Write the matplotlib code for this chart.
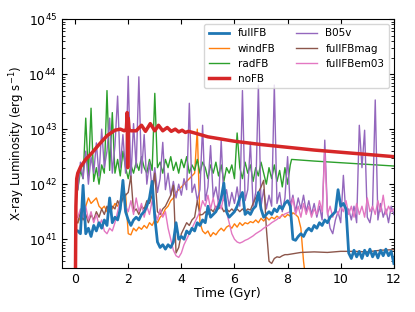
import numpy as np
import matplotlib
matplotlib.use('Agg')
import matplotlib.pyplot as plt

# time grid (Gyr) for the noisy runs, values as log10(L)
grid = np.round(np.arange(1, 121) * 0.1, 1)

# noFB (smooth, thick red)
nofb_t = [0.0, 0.03, 0.06, 0.1, 0.2, 0.4, 0.6, 0.9, 1.2, 1.5, 1.7, 1.85, 1.93, 1.96, 1.98,
          2.0, 2.03, 2.1, 2.3, 2.5, 2.65, 2.83, 3.0, 3.14, 3.3, 3.47, 3.62, 3.77, 3.9,
          4.03, 4.15, 4.27, 4.5, 5.0, 6.0, 7.0, 8.0, 9.0, 10.0, 11.0, 12.0]
nofb = [39.5, 41.6, 42.1, 42.2, 42.31, 42.45, 42.55, 42.72, 42.88, 42.98, 43.0, 42.97, 43.0, 43.3, 42.3,
        43.2, 42.98, 42.97, 42.97, 43.07, 42.96, 43.1, 42.97, 43.07, 42.97, 43.03, 42.96, 43.0, 42.95,
        42.98, 42.94, 42.96, 42.93, 42.86, 42.78, 42.72, 42.67, 42.62, 42.58, 42.54, 42.5]

fullfb = [41.15, 41.1, 41.98, 41.1, 41.2, 41.05, 41.25, 41.15, 41.3, 41.2,
          41.35, 41.25, 41.75, 41.3, 41.4, 41.35, 41.55, 42.07, 41.5, 41.35,
          41.25, 41.35, 41.4, 41.35, 41.45, 41.5, 41.6, 41.75, 42.05, 41.4,
          40.95, 40.85, 40.9, 40.82, 40.9, 40.85, 40.95, 41.3, 41.0, 41.05,
          41.0, 41.15, 41.1, 41.2, 41.15, 41.3, 41.25, 41.35, 41.3, 41.6,
          41.4, 41.45, 41.5, 41.6, 41.75, 42.02, 41.5, 41.4, 41.45, 41.5,
          41.6, 41.75, 41.85, 41.45, 41.5, 41.45, 41.55, 41.6, 41.85, 41.55,
          41.4, 41.45, 41.5, 41.45, 41.55, 41.5, 41.6, 41.55, 41.65, 41.7,
          41.6, 41.0, 40.98, 41.05, 41.1, 41.05, 41.15, 41.2, 41.15, 41.25,
          41.2, 41.3, 41.25, 41.35, 41.3, 41.4, 41.45, 41.5, 41.9, 41.6,
          41.65, 41.55, 40.75, 40.65, 40.8, 40.68, 40.78, 40.65, 40.8, 40.7,
          40.82, 40.68, 40.78, 40.66, 40.8, 40.7, 40.82, 40.7, 40.78, 40.56]

windfb = [41.3, 41.4, 41.5, 41.6, 41.75, 41.65, 41.7, 41.75, 41.6, 41.55,
          41.6, 41.5, 41.6, 41.55, 41.65, 41.6, 41.7, 41.75, 41.82, 41.1,
          41.08, 41.2, 41.15, 41.22, 41.18, 41.25, 41.2, 41.3, 41.25, 41.35,
          41.3, 41.4, 41.45, 41.55, 41.6, 41.7, 41.75, 41.85, 41.9, 41.95,
          42.0, 42.05, 42.1, 42.15, 42.2, 43.0, 41.3, 41.15, 41.1, 41.15,
          41.05, 41.12, 41.08, 41.15, 41.2, 41.15, 41.22, 41.25, 41.2, 41.28,
          41.22, 41.3, 41.25, 41.3, 41.28, 41.32, 41.3, 41.35, 41.3, 41.38,
          41.33, 41.4, 41.35, 41.4, 41.37, 41.42, 41.38, 41.45, 41.4, 41.45,
          41.42, 41.48, 41.45, 41.4, 41.2, 40.6, 40.2]

radfb = [41.9, 42.25, 42.1, 43.2, 42.15, 43.38, 42.05, 42.3, 42.0, 42.35,
         42.2, 43.7, 42.25, 43.3, 42.2, 42.45, 42.15, 42.6, 42.3, 42.1,
         42.35, 42.2, 42.4, 42.25, 42.5, 42.3, 42.2, 42.45, 42.25, 43.65,
         42.3, 42.4, 42.2, 42.45, 42.3, 42.5, 42.25, 42.4, 42.2, 42.45,
         42.3, 42.5, 42.2, 42.35, 42.25, 42.45, 42.2, 42.4, 42.3, 42.1,
         42.35, 42.2, 42.4, 42.15, 42.35, 42.05, 42.3, 42.2, 42.35, 42.1,
         42.93, 42.3, 42.1, 42.4, 42.2, 42.35, 42.05, 42.3, 42.15, 42.4,
         42.2, 42.0, 42.3, 42.1, 42.35, 42.05, 42.25, 41.95, 42.3, 42.0,
         42.35]
radfb_tail_t = [8.15, 9.0, 10.0, 11.0, 12.0]
radfb_tail = [42.45, 42.42, 42.39, 42.36, 42.33]

b05v = [41.9, 42.4, 42.1, 42.6, 42.0, 42.5, 42.2, 42.75, 42.15, 43.0,
        42.3, 42.6, 43.2, 42.2, 42.7, 43.6, 42.3, 42.9, 42.2, 43.96,
        42.1, 43.1, 42.3, 43.95, 42.2, 42.9, 42.0, 42.4, 41.9, 42.3,
        41.85, 42.1, 42.76, 41.9, 42.2, 41.8, 42.05, 41.75, 42.0, 41.8,
        42.1, 41.9, 43.47, 41.85, 42.0, 41.7, 41.9, 43.07, 41.7, 41.95,
        42.7, 41.75, 41.95, 41.65, 42.8, 41.7, 41.9, 41.6, 41.85, 41.65,
        41.95, 41.6, 43.7, 41.7, 41.9, 42.76, 41.6, 41.85, 43.8, 41.6,
        41.9, 41.55, 41.8, 41.6, 43.8, 41.65, 41.85, 41.5, 41.75, 42.5,
        41.6, 41.8, 41.5, 41.75, 41.55, 41.8, 41.5, 41.7, 41.45, 41.65,
        41.4, 41.6, 41.35, 42.8, 41.5, 41.2, 41.1, 41.35, 41.5, 41.3,
        42.16, 41.4, 41.55, 41.35, 41.6, 41.3, 43.07, 42.3, 42.98, 41.4,
        41.3, 41.6, 43.53, 41.35, 41.65, 41.4, 41.55, 41.3, 41.6, 41.45]

fullfbmag = [41.3, 41.5, 41.35, 41.45, 41.3, 41.45, 41.35, 41.5, 41.4, 41.55,
             41.45, 41.6, 41.5, 41.6, 41.55, 41.7, 41.6, 41.75, 41.8, 41.85,
             42.15, 41.5, 41.55, 41.45, 41.6, 41.55, 41.7, 41.65, 41.8, 42.2,
             41.5, 41.45, 41.55, 41.6, 41.7, 41.8, 41.98, 40.75, 40.85, 41.1,
             41.2, 41.3, 41.25, 41.35, 41.4, 41.7, 41.44, 41.45, 41.5, 41.45,
             41.55, 41.5, 41.6, 41.55, 41.6, 41.5, 41.55, 41.5, 41.55, 41.5,
             41.55, 41.5, 41.55, 41.5, 41.55, 41.53, 41.65, 41.75, 41.85, 41.95,
             42.07, 41.2, 40.6, 40.56, 40.65, 40.68, 40.67, 40.7, 40.72, 40.72]
fullfbmag_tail_t = [8.5, 9.0, 9.5, 10.0, 10.5, 11.0, 11.5, 12.0]
fullfbmag_tail = [40.76, 40.77, 40.76, 40.78, 40.78, 40.77, 40.8, 40.81]

fullfbem03 = [41.4, 41.55, 41.4, 41.6, 41.35, 41.5, 41.3, 41.45, 41.25, 41.35,
              41.15, 41.1, 41.2, 41.15, 41.3, 41.5, 41.7, 41.85, 41.6, 41.5,
              41.7, 41.45, 41.75, 41.5, 41.65, 41.4, 41.6, 41.45, 41.7, 41.5,
              41.35, 41.55, 41.4, 41.5, 41.2, 41.0, 40.8, 40.7, 40.67, 40.75,
              40.9, 41.0, 41.1, 41.2, 41.3, 41.4, 41.5, 41.7, 41.6, 41.8,
              41.55, 41.75, 41.5, 41.7, 41.55, 41.8, 41.5, 41.3, 41.1, 41.0,
              40.95, 40.93, 40.95, 40.98, 41.0, 41.03, 41.06, 41.1, 41.13, 41.16,
              41.2, 41.23, 41.26, 41.3, 41.33, 41.36, 41.4, 41.43, 41.46, 41.48,
              41.5, 41.75, 41.45, 41.6, 41.4, 41.65, 41.45, 41.6, 41.4, 41.55,
              41.45, 41.7, 41.5, 42.6, 41.45, 41.6, 41.4, 41.55, 41.45, 41.6,
              41.5, 41.7, 41.45, 41.6, 41.4, 41.65, 41.45, 41.6, 41.4, 41.75,
              41.5, 41.6, 41.45, 41.7, 41.5, 41.8, 41.45, 41.6, 41.5, 41.55]

fig = plt.figure(figsize=(4.15, 3.12), dpi=100)
ax = fig.add_axes([0.149, 0.141, 0.8, 0.798])

ax.plot(grid, 10**np.array(fullfb), color='tab:blue', lw=2, label='fullFB', zorder=3)
ax.plot(grid[:len(windfb)], 10**np.array(windfb), color='tab:orange', lw=1, label='windFB')
ax.plot(np.concatenate([grid[:len(radfb)], radfb_tail_t]),
        10**np.array(radfb + radfb_tail), color='tab:green', lw=1, label='radFB')
ax.plot(nofb_t, 10**np.array(nofb), color='tab:red', lw=2.5, label='noFB', zorder=4)
ax.plot(grid, 10**np.array(b05v), color='tab:purple', lw=1, label='B05v')
ax.plot(np.concatenate([grid[:len(fullfbmag)], fullfbmag_tail_t]),
        10**np.array(fullfbmag + fullfbmag_tail), color='tab:brown', lw=1, label='fullFBmag')
ax.plot(grid, 10**np.array(fullfbem03), color='tab:pink', lw=1, label='fullFBem03')

ax.set_yscale('log')
ax.set_xlim(-0.5, 12)
ax.set_ylim(3e40, 1e45)
ax.set_xticks([0, 2, 4, 6, 8, 10, 12])
ax.tick_params(which='both', direction='in', top=True, right=True, labelsize=9)
ax.set_xlabel('Time (Gyr)', fontsize=9, labelpad=1)
ax.set_ylabel('X-ray Luminosity (erg s$^{-1}$)', fontsize=8.5, labelpad=1)
ax.legend(ncol=2, loc='upper right', fontsize=7.5)

fig.savefig('out.png')
